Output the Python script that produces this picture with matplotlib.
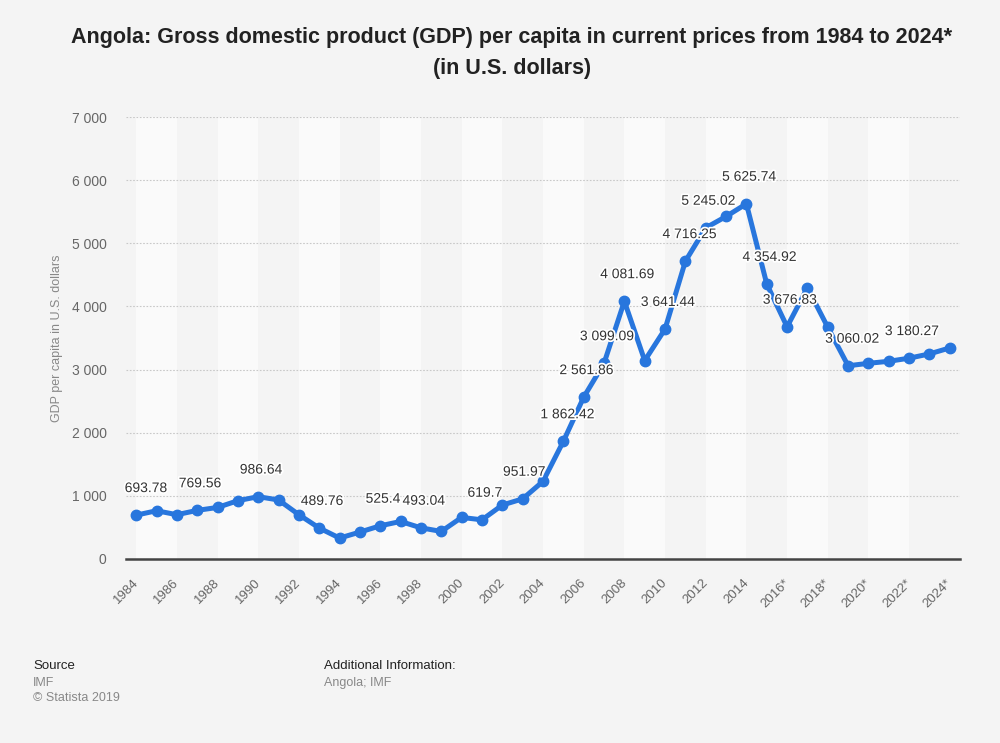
import matplotlib
matplotlib.use("Agg")
import matplotlib.pyplot as plt
import matplotlib.patheffects as pe
from matplotlib.transforms import ScaledTranslation

# ------------------- Data -------------------
years = list(range(1984, 2025))
gdp = [693.78, 764, 701, 769.56, 816, 923, 986.64, 934, 701, 489.76,
       331, 426, 525.4, 594, 493.04, 436, 658, 619.7, 854, 951.97,
       1229, 1862.42, 2561.86, 3099.09, 4081.69, 3142, 3641.44, 4716.25, 5245.02, 5425,
       5625.74, 4354.92, 3676.83, 4295, 3670, 3060.02, 3099, 3131, 3180.27, 3248,
       3343]
# years that carry a value label, and the horizontal nudge (points) of that label
labeled = {1984: 7, 1987: 2, 1990: 2, 1993: 2, 1996: 2, 1998: 2, 2001: 2, 2003: 1,
           2005: 3, 2006: 2, 2007: 2, 2008: 2, 2010: 2, 2011: 3, 2012: 2, 2014: 2,
           2015: 2, 2016: 2, 2019: 3, 2022: 2}
tick_years = list(range(1984, 2025, 2))
tick_labels = [str(y) + ("*" if y >= 2016 else "") for y in tick_years]
y_ticks = list(range(0, 7001, 1000))


def fmt(v):
    s = f"{v:,.2f}".rstrip("0").rstrip(".")
    return s.replace(",", " ")


plt.rcParams['font.family'] = ['Liberation Sans', 'DejaVu Sans']

BG = "#f4f4f4"
BLUE = "#2876dd"

# ------------------- Figure -------------------
fig = plt.figure(figsize=(10, 7.43), dpi=100, facecolor=BG)
ax = fig.add_axes([0.126, 0.2477, 0.834, 0.5948])
ax.set_facecolor(BG)

# alternating column bands
for i, y0 in enumerate(tick_years[:-1]):
    if i % 2 == 0:
        ax.axvspan(y0, y0 + 2, color="#fafafa", zorder=0, lw=0)

ax.plot(years, gdp, color=BLUE, lw=3.6, marker="o", ms=7.5, zorder=3,
        solid_joinstyle="round")

for yr, dx in labeled.items():
    v = gdp[years.index(yr)]
    ax.annotate(fmt(v), (yr, v), xytext=(dx, 19.5), textcoords="offset points",
                ha="center", va="center", fontsize=10, color="#333333", zorder=4,
                path_effects=[pe.withStroke(linewidth=2.5, foreground="white")])

ax.set_xlim(1983.5, 2024.5)
ax.set_ylim(0, 7000)
ax.set_yticks(y_ticks)
ax.set_yticklabels([f"{t:,}".replace(",", " ") for t in y_ticks])
ax.set_xticks(tick_years)
ax.set_xticklabels(tick_labels, rotation=45, ha="right", va="top",
                   rotation_mode="anchor")
ax.tick_params(axis="both", length=0, labelsize=10, colors="#666666")
ax.tick_params(axis="x", pad=13, labelsize=9.5)
ax.tick_params(axis="y", pad=14)
shift = ScaledTranslation(-0.04, 0, fig.dpi_scale_trans)
for lbl in ax.get_xticklabels():
    lbl.set_transform(lbl.get_transform() + shift)
ax.yaxis.grid(True, color="#c8c8c8", ls=(0, (1.5, 1.5)), lw=0.8)
ax.set_axisbelow(True)
for s in ["top", "right", "left"]:
    ax.spines[s].set_visible(False)
ax.spines["bottom"].set_color("#444444")
ax.spines["bottom"].set_linewidth(1.8)
ax.spines["bottom"].set_zorder(5)

ax.set_ylabel("GDP per capita in U.S. dollars", fontsize=9, color="#888888",
              labelpad=6)

# ------------------- Title & footer -------------------
fig.text(0.512, 0.950, "Angola: Gross domestic product (GDP) per capita in current prices from 1984 to 2024*",
         ha="center", va="center", fontsize=15.5, fontweight="bold", color="#222222")
fig.text(0.512, 0.908, "(in U.S. dollars)", ha="center", va="center", fontsize=15.5,
         fontweight="bold", color="#222222")

fig.text(0.033, 0.104, "Source", fontsize=9.5, color="#222222", va="center")
fig.text(0.033, 0.081, "IMF", fontsize=9, color="#888888", va="center")
fig.text(0.033, 0.060, "© Statista 2019", fontsize=9, color="#888888", va="center")
fig.text(0.324, 0.104, "Additional Information:", fontsize=9.5, color="#222222", va="center")
fig.text(0.324, 0.081, "Angola; IMF", fontsize=9, color="#888888", va="center")

fig.savefig("out.png", dpi=100, facecolor=BG)
